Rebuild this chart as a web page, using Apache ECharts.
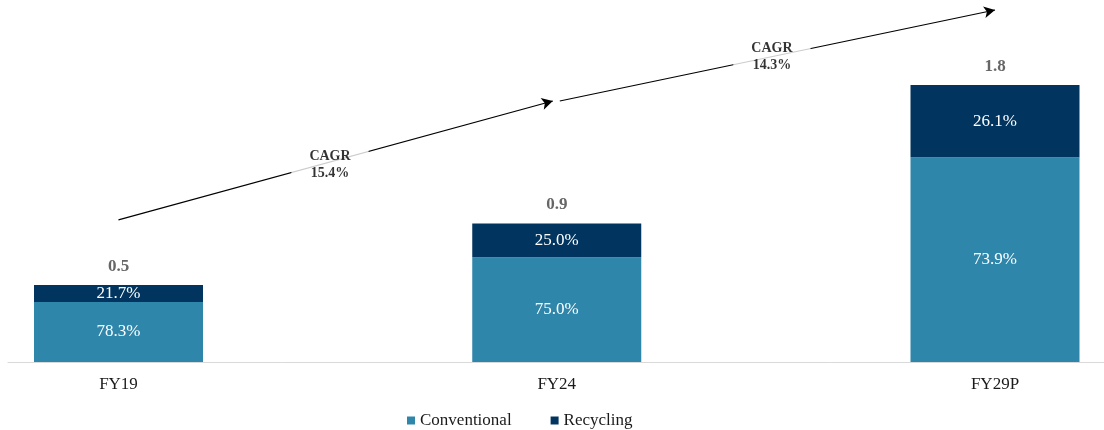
<!DOCTYPE html>
<html>
<head>
<meta charset="utf-8">
<script src="https://cdn.jsdelivr.net/npm/echarts@6/dist/echarts.min.js"></script>
<style>html,body{margin:0;padding:0;background:#fff}#c{width:1104px;height:430px}</style>
</head>
<body>
<div id="c"></div>
<script>
// ---- data ----
var categories = ['FY19', 'FY24', 'FY29P'];
var totals = [0.5, 0.9, 1.8];
var conventional = [0.39, 0.68, 1.33];
var recycling = [0.11, 0.22, 0.47];
var conventionalPct = ['78.3%', '75.0%', '73.9%'];
var recyclingPct = ['21.7%', '25.0%', '26.1%'];
var cagrLabels = ['CAGR\n15.4%', 'CAGR\n14.3%'];
// arrow endpoints [x position in category units, value]
var cagrArrows = [
  [[0, 0.923], [0.991, 1.696]],
  [[1.007, 1.696], [2, 2.287]]
];
var cagrLabelPos = [[0.4826, 1.28], [1.491, 1.985]];

var FONT = "'Liberation Serif', 'Times New Roman', serif";
var C_CONV = '#2E86AB';
var C_REC = '#01355F';

var chart = echarts.init(document.getElementById('c'));
chart.setOption({
  animation: false,
  backgroundColor: '#fff',
  textStyle: { fontFamily: FONT },
  grid: [
    { left: 118.5, right: 109, top: 8, bottom: 68 },
    { left: 8, right: 0, top: 8, bottom: 68 }
  ],
  legend: {
    left: 402, top: 407,
    itemWidth: 8, itemHeight: 8, itemGap: 39,
    icon: 'rect',
    textStyle: { fontFamily: FONT, fontSize: 17, color: '#1a1a1a' },
    data: ['Conventional', 'Recycling']
  },
  xAxis: [
    {
      type: 'category', gridIndex: 0, data: categories, boundaryGap: false,
      axisTick: { show: false },
      axisLine: { show: false },
      axisLabel: { fontFamily: FONT, fontSize: 17, color: '#1a1a1a', margin: 14 }
    },
    {
      type: 'value', gridIndex: 1, min: -0.2521, max: 2.2487,
      splitLine: { show: false },
      axisTick: { show: false },
      axisLabel: { show: false },
      axisLine: { show: true, onZero: false, lineStyle: { color: '#d9d9d9', width: 1 } }
    }
  ],
  yAxis: [
    { type: 'value', gridIndex: 0, min: 0, max: 2.3, show: false, splitLine: { show: false } },
    { type: 'value', gridIndex: 1, min: 0, max: 2.3, show: false, splitLine: { show: false } }
  ],
  series: [
    {
      name: 'Conventional', type: 'bar', stack: 'total', barWidth: 169, clip: false,
      xAxisIndex: 0, yAxisIndex: 0, z: 3,
      itemStyle: { color: C_CONV },
      data: conventional,
      label: {
        show: true, position: 'inside', color: '#fff', fontFamily: FONT, fontSize: 17,
        formatter: function (p) { return conventionalPct[p.dataIndex]; }
      }
    },
    {
      name: 'Recycling', type: 'bar', stack: 'total', barWidth: 169, clip: false,
      xAxisIndex: 0, yAxisIndex: 0, z: 3,
      itemStyle: { color: C_REC },
      data: recycling,
      label: {
        show: true, position: 'inside', color: '#fff', fontFamily: FONT, fontSize: 17,
        formatter: function (p) { return recyclingPct[p.dataIndex]; }
      }
    },
    {
      name: 'totals', type: 'scatter', symbolSize: 0, z: 5, clip: false,
      xAxisIndex: 0, yAxisIndex: 0,
      data: totals,
      label: {
        show: true, position: 'top', distance: 10, color: '#404040', fontWeight: 'bold',
        fontFamily: FONT, fontSize: 17,
        formatter: function (p) { return totals[p.dataIndex].toFixed(1); }
      }
    },
    {
      name: 'arrows', type: 'scatter', symbolSize: 0, z: 4, clip: false,
      xAxisIndex: 1, yAxisIndex: 1,
      data: [],
      markLine: {
        silent: true, symbol: ['none', 'arrow'], symbolSize: [9, 11],
        lineStyle: { color: '#000', width: 1.2, type: 'solid' },
        label: { show: false },
        data: cagrArrows.map(function (a) { return [{ coord: a[0] }, { coord: a[1] }]; })
      }
    },
    {
      name: 'cagr', type: 'scatter', symbolSize: 0, z: 10, clip: false,
      xAxisIndex: 1, yAxisIndex: 1,
      data: cagrLabelPos,
      label: {
        show: true, position: 'inside', color: '#000', fontWeight: 'bold',
        fontFamily: FONT, fontSize: 14, lineHeight: 17,
        backgroundColor: '#fff', padding: [2, 18],
        formatter: function (p) { return cagrLabels[p.dataIndex]; }
      }
    }
  ]
});
</script>
</body>
</html>
